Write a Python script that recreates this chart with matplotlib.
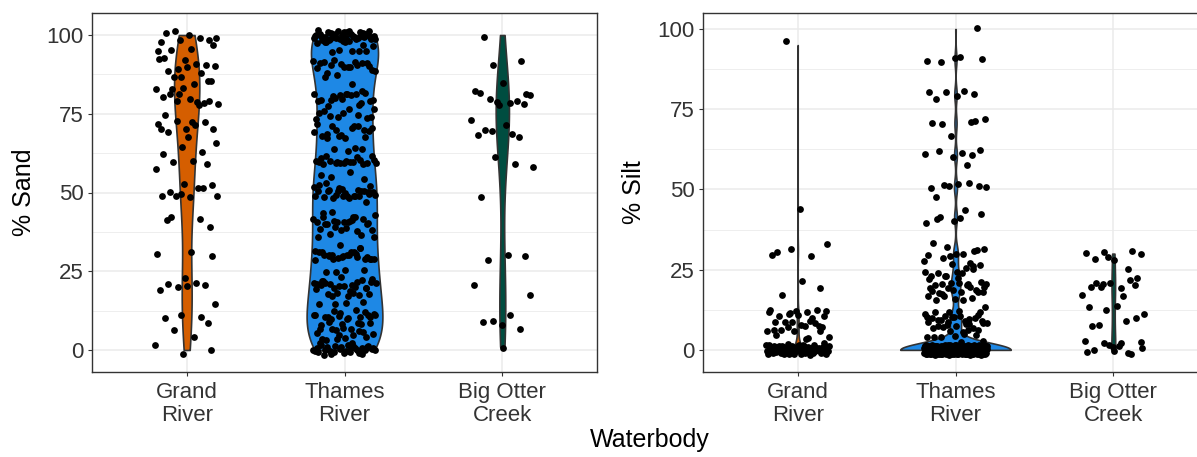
import numpy as np
import matplotlib
matplotlib.use('Agg')
import matplotlib.pyplot as plt

plt.rcParams['font.family'] = ['Liberation Sans', 'DejaVu Sans']

waterbodies = ['Grand\nRiver', 'Thames\nRiver', 'Big Otter\nCreek']
colors = ['#D55E00', '#1E88E5', '#004D40']

# % sand, values
grand_sand = [100, 100, 99, 98, 99, 100, 100, 98, 96, 94, 95, 98,
              91, 91, 89, 90, 89, 91, 91, 90, 88, 87, 93, 86, 86,
              84, 84, 84, 83, 80, 80, 79, 80, 79, 80, 79, 80, 78, 76, 78, 83,
              73, 71, 70, 71, 70, 69, 74, 72, 68, 71,
              65, 64, 64, 61, 59, 61, 59, 58,
              53, 52, 51, 51, 50, 49, 50, 48, 49, 50,
              41, 41, 40, 41, 31, 32, 29,
              23, 22, 20, 20, 21, 19, 19, 16,
              10, 11, 11, 8, 6, 5, 0, 0, 0]
thames_sand = ([100] * 30 + [99] * 8 + [98] * 6 +
               [96, 95, 96, 97, 95, 96, 94] +
               [92, 91, 90, 91, 89, 90, 92, 91, 90, 89, 88, 90, 91, 92, 89, 90, 91, 88, 90] +
               [85, 86] +
               [82, 81, 80, 79, 81, 80, 78, 80, 81, 79, 82, 80, 79, 81, 80, 78, 79, 80, 81] +
               [76, 75, 74, 76, 75, 74, 75, 76, 73, 75, 74] +
               [71, 70, 69, 70, 68, 71, 70, 69, 70, 68, 69, 70, 71, 70, 69, 68] +
               [65, 66, 64, 65] +
               [62, 61, 60, 59, 61, 60, 58, 60, 61, 59, 62, 60, 59, 61, 60, 58, 60, 61, 59, 60, 61] +
               [55, 54, 56, 55] +
               [52, 51, 50, 49, 51, 50, 48, 50, 51, 49, 52, 50, 49, 51, 50, 48, 50, 51, 49, 50, 52, 51, 50, 49, 50, 51, 50, 49] +
               [45, 46, 44] +
               [42, 41, 40, 39, 41, 40, 38, 40, 41, 39, 42, 40, 39, 41, 40, 38, 40, 41, 39, 40, 42, 41, 40, 39, 40] +
               [35, 36, 34] +
               [32, 31, 30, 29, 31, 30, 28, 30, 31, 29, 32, 30, 29, 31, 30, 28, 30, 31, 29, 30, 31, 30, 29, 31, 30] +
               [25, 26, 24, 25] +
               [22, 21, 20, 19, 21, 20, 18, 20, 21, 19, 22, 20, 19, 21, 20, 18, 20, 21, 19, 20, 22, 21, 20, 19, 20, 21, 20, 19, 20] +
               [15, 16, 14, 15] +
               [12, 11, 10, 9, 11, 10, 8, 10, 11, 9, 12, 10, 9, 11, 10, 8, 10, 11, 9, 10, 11, 10, 9, 11, 10] +
               [6, 5, 4, 5, 6, 5, 4, 5, 6, 5, 4, 5, 6] +
               [2, 1, 0, 1, 2, 0, 1, 0, 1, 2, 1, 2] + [0] * 22)
otter_sand = [100, 91, 90, 86, 81, 81, 80, 78, 82, 79, 79, 78, 74, 80, 78,
              70, 69, 68, 70, 71, 68, 59, 60, 59, 50, 29, 29, 31, 20, 17,
              9, 10, 9, 8, 8, 1]

# % silt
grand_silt = ([95, 44, 31, 32, 32, 30, 30, 19, 18, 20] +
              [12, 12, 11, 12, 11, 12, 11, 12, 11, 12] +
              [10, 9, 9, 8, 8, 7, 7, 6, 6, 5, 5, 9, 8, 7, 6, 5, 10, 9, 6, 5] +
              [1, 2, 1, 2, 1, 2, 1, 2, 1, 2] + [0] * 60)
thames_silt = ([100, 91, 90, 90, 92, 90, 81, 79, 79, 80, 80, 79, 72, 68, 70, 71, 72, 70,
                61, 62, 61, 60, 59, 61, 61, 52, 51, 50, 52, 50, 52, 49, 50,
                42, 42, 39, 42, 41, 42, 41] +
               [32, 31, 30, 30, 31, 29, 28, 32, 31, 30, 29, 28] +
               [27, 26, 25, 25, 24, 23, 22, 22, 21, 20, 20, 20, 19, 19, 18, 18, 17, 16, 16, 15,
                26, 24, 23, 22, 21, 20, 20, 19, 18, 17, 25, 23, 21, 20, 19, 18, 17, 16, 22, 20] +
               [12, 12, 11, 11, 11, 10, 10, 10, 10, 9, 9, 9, 9, 8, 8, 8, 8, 7, 7, 7, 6, 6, 6,
                12, 11, 10, 9, 8, 7, 12, 11, 10, 9, 8, 6] +
               [5, 5, 4, 4, 3, 3, 5, 4] + [0] * 260)
otter_silt = [29, 30, 30, 29, 29, 30, 30, 24, 20, 21, 19, 19, 18, 21, 21, 18, 20, 22, 21,
              13, 13, 12, 11, 9, 9, 9, 8, 2, 2, 2, 2, 1, 0, 0, 1, 0, 0, 0, 1, 0]

sand = [grand_sand, thames_sand, otter_sand]
silt = [grand_silt, thames_silt, otter_silt]


def nrd0(x):
    hi = np.std(x, ddof=1)
    q75, q25 = np.percentile(x, [75, 25])
    lo = min(hi, (q75 - q25) / 1.34)
    if lo == 0:
        lo = hi if hi > 0 else 1.0
    return 0.9 * lo * len(x) ** -0.2


def halton(i, base):
    f, r = 1.0, 0.0
    while i > 0:
        f /= base
        r += f * (i % base)
        i //= base
    return r


def draw_violin(ax, pos, vals, maxw, color):
    v = np.asarray(vals, float)
    bw = nrd0(v)
    ys = np.linspace(v.min(), v.max(), 512)
    d = np.exp(-0.5 * ((ys[:, None] - v[None, :]) / bw) ** 2).sum(axis=1)
    hw = d / d.max() * maxw
    ax.fill_betweenx(ys, pos - hw, pos + hw, facecolor=color,
                     edgecolor='#333333', linewidth=1.2, zorder=2)


def draw_points(ax, pos, vals, start):
    v = np.asarray(vals, float)
    hx = np.array([halton(start + 7 * i, 2) for i in range(1, len(v) + 1)])
    hy = np.array([halton(start + 5 * i, 3) for i in range(1, len(v) + 1)])
    ax.scatter(pos + (hx * 2 - 1) * 0.2, v + (hy * 2 - 1) * 1.5,
               s=24, c='black', linewidths=0, zorder=3)


W, H = 1197, 457
fig = plt.figure(figsize=(W / 100, H / 100), dpi=100)
ax1 = fig.add_axes([92 / W, 1 - 372 / H, 505 / W, 359 / H])
ax2 = fig.add_axes([703 / W, 1 - 372 / H, 505 / W, 359 / H])

panels = [(ax1, sand, [0.08, 0.24, 0.042], (-7, 107)),
          (ax2, silt, [0.022, 0.35, 0.012], (-6.9, 105))]

for ax, groups, widths, ylim in panels:
    for k, vals in enumerate(groups):
        draw_violin(ax, k + 1, vals, widths[k], colors[k])
        draw_points(ax, k + 1, vals, 17 * k + 3)
    ax.set_xlim(0.4, 3.6)
    ax.set_ylim(*ylim)
    ax.set_xticks([1, 2, 3])
    ax.set_xticklabels(waterbodies, linespacing=1.1)
    ax.set_yticks([0, 25, 50, 75, 100])
    ax.set_yticks([12.5, 37.5, 62.5, 87.5], minor=True)
    ax.set_axisbelow(True)
    ax.grid(which='major', color='#EBEBEB', linewidth=1.1)
    ax.grid(which='minor', axis='y', color='#EBEBEB', linewidth=0.6)
    ax.tick_params(which='minor', length=0)
    ax.tick_params(which='major', direction='out', length=2.9, width=0.8,
                   color='#333333', labelsize=16, labelcolor='#333333')
    ax.tick_params(axis='x', pad=4.5)
    ax.tick_params(axis='y', pad=2.9)
    for s in ax.spines.values():
        s.set_color('#333333')
        s.set_linewidth(1.0)

fig.text(24 / W, 1 - 192 / H, '% Sand', rotation=90, ha='center', va='center', fontsize=18)
fig.text(634 / W, 1 - 192 / H, '% Silt', rotation=90, ha='center', va='center', fontsize=18)
fig.text(650 / W, 1 - 428 / H, 'Waterbody', ha='center', va='top', fontsize=18)

fig.savefig('out.png', dpi=100)
